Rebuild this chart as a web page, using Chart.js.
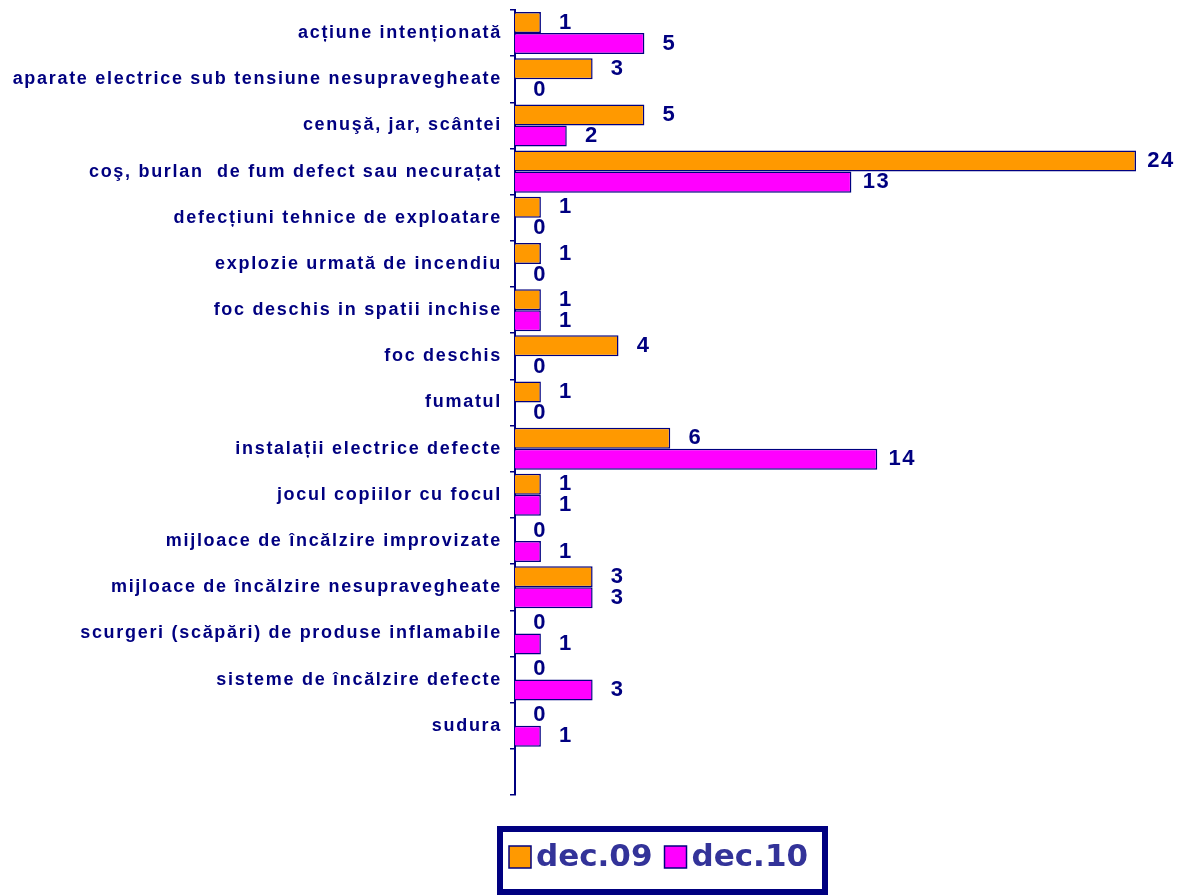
<!DOCTYPE html>
<html>
<head>
<meta charset="utf-8">
<script src="https://cdn.jsdelivr.net/npm/chart.js@4/dist/chart.umd.min.js"></script>
<style>
  html, body { margin: 0; padding: 0; background: #fff; }
  #wrap { width: 1190px; height: 895px; }
</style>
</head>
<body>
<div id="wrap"><canvas id="cauze"></canvas></div>
<script>
// categorii (ultima poziție e goală, ca în original)
const categories = [
    'acțiune intenționată',
    'aparate electrice sub tensiune nesupravegheate',
    'cenuşă, jar, scântei',
    'coş, burlan  de fum defect sau necurațat',
    'defecțiuni tehnice de exploatare',
    'explozie urmată de incendiu',
    'foc deschis in spatii inchise',
    'foc deschis',
    'fumatul',
    'instalații electrice defecte',
    'jocul copiilor cu focul',
    'mijloace de încălzire improvizate',
    'mijloace de încălzire nesupravegheate',
    'scurgeri (scăpări) de produse inflamabile',
    'sisteme de încălzire defecte',
    'sudura',
    ''
];
const dec09 = [1, 3, 5, 24, 1, 1, 1, 4, 1, 6, 1, 0, 3, 0, 0, 0, null];
const dec10 = [5, 0, 2, 13, 0, 0, 1, 0, 0, 14, 1, 1, 3, 1, 3, 1, null];
const seriesNames = ['dec.09', 'dec.10'];

const NAVY = '#000080';

// textul categoriilor e mai rărit în original
const spacing = {
    id: 'spacing',
    beforeDraw(chart) {
        chart.ctx.letterSpacing = '1.7px';
    }
};

// etichete cu valori la capătul barelor
const valueLabels = {
    id: 'valueLabels',
    afterDatasetsDraw(chart) {
        const ctx = chart.ctx;
        ctx.save();
        ctx.letterSpacing = '1.5px';
        ctx.font = 'bold 22px "Liberation Sans", Arial, sans-serif';
        ctx.fillStyle = NAVY;
        ctx.textAlign = 'center';
        ctx.textBaseline = 'middle';
        chart.data.datasets.forEach((ds, i) => {
            chart.getDatasetMeta(i).data.forEach((bar, j) => {
                const v = ds.data[j];
                if (v === null || v === undefined) return;
                ctx.fillText(String(v), bar.x + 25, bar.y);
            });
        });
        ctx.restore();
    }
};

// legenda cu chenar gros
const boxLegend = {
    id: 'boxLegend',
    afterDraw(chart) {
        const ctx = chart.ctx;
        ctx.save();
        ctx.letterSpacing = '0px';
        ctx.lineWidth = 6;
        ctx.strokeStyle = NAVY;
        ctx.strokeRect(500, 829, 325, 63);
        ctx.font = 'bold 31px Verdana, "DejaVu Sans", sans-serif';
        ctx.textBaseline = 'middle';
        let x = 509;
        chart.data.datasets.forEach((ds) => {
            ctx.fillStyle = ds.backgroundColor;
            ctx.fillRect(x, 846, 22, 22);
            ctx.lineWidth = 1.5;
            ctx.strokeStyle = NAVY;
            ctx.strokeRect(x, 846, 22, 22);
            ctx.fillStyle = '#333399';
            ctx.fillText(ds.label, x + 27, 858);
            x += 27 + ctx.measureText(ds.label).width + 12;
        });
        ctx.restore();
    }
};

const ctx = document.getElementById('cauze').getContext('2d');
new Chart(ctx, {
    type: 'bar',
    data: {
        labels: categories,
        datasets: [
            {
                label: seriesNames[0],
                data: dec09,
                backgroundColor: '#FF9900',
                borderColor: NAVY,
                borderWidth: 1.5,
                borderSkipped: 'start'
            },
            {
                label: seriesNames[1],
                data: dec10,
                backgroundColor: '#FF00FF',
                borderColor: NAVY,
                borderWidth: 1.5,
                borderSkipped: 'start'
            }
        ]
    },
    options: {
        indexAxis: 'y',
        responsive: true,
        maintainAspectRatio: false,
        animation: false,
        categoryPercentage: 0.91,
        barPercentage: 1.0,
        layout: {
            padding: { top: 10, right: 54, bottom: 100, left: 0 }
        },
        scales: {
            x: {
                display: false,
                min: 0,
                max: 24
            },
            y: {
                offset: true,
                afterFit(scale) {
                    scale.width = 515;
                    scale.paddingTop = 0;
                    scale.paddingBottom = 0;
                },
                border: { display: true, color: NAVY, width: 2 },
                grid: {
                    offset: true,
                    drawOnChartArea: false,
                    drawTicks: true,
                    tickLength: 5,
                    color: NAVY,
                    lineWidth: 1.5
                },
                ticks: {
                    color: NAVY,
                    padding: 8,
                    autoSkip: false,
                    font: { family: '"Liberation Sans", Arial, sans-serif', size: 18, weight: 'bold' }
                }
            }
        },
        plugins: {
            legend: { display: false },
            tooltip: { enabled: false }
        }
    },
    plugins: [spacing, valueLabels, boxLegend]
});
</script>
</body>
</html>
